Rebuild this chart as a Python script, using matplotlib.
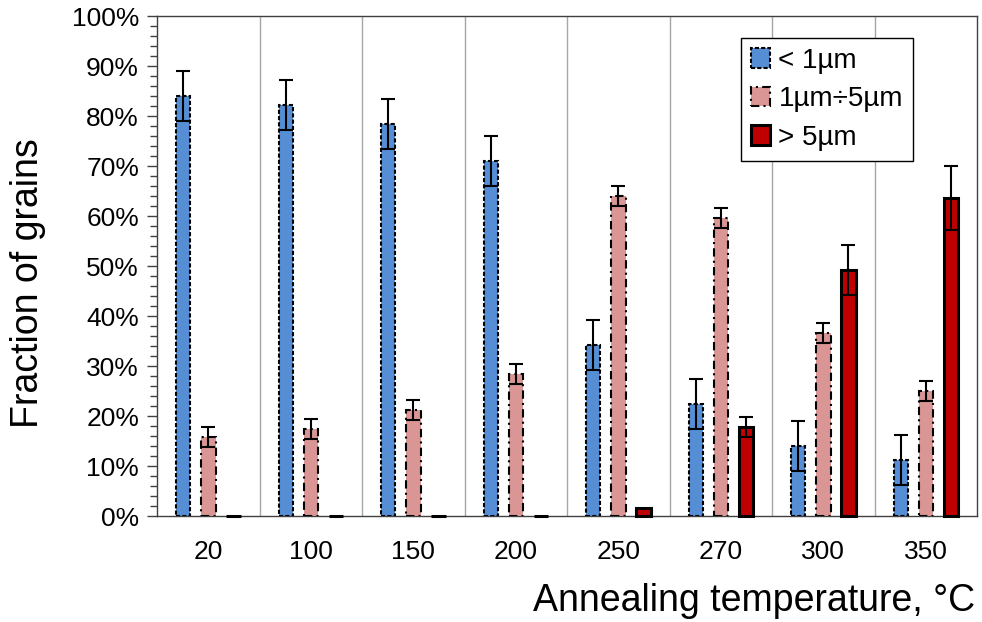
import numpy as np
import matplotlib.pyplot as plt
from matplotlib.ticker import MultipleLocator, FuncFormatter

plt.rcParams['font.family'] = ['Liberation Sans', 'DejaVu Sans']

temps = ['20', '100', '150', '200', '250', '270', '300', '350']
small = [84, 82.2, 78.5, 71, 34.3, 22.4, 14, 11.3]
small_err = [5, 5, 5, 5, 5, 5, 5, 5]
mid = [15.9, 17.4, 21.3, 28.4, 64, 59.7, 36.6, 25]
mid_err = [2, 2, 2, 2, 2, 2, 2, 2]
big = [0, 0, 0, 0, 1.6, 17.8, 49.2, 63.6]
big_err = [0, 0, 0, 0, 0, 2, 5, 6.4]
labels = ['< 1µm', '1µm÷5µm', '> 5µm']

fig = plt.figure(figsize=(9.82, 6.22), dpi=100)
ax = fig.add_axes([0.160, 0.170, 0.835, 0.804])

x = np.arange(len(temps))
w = 0.14
off = 0.245
ekw = dict(ecolor='black', elinewidth=1.5, capsize=5, capthick=1.5)

ax.bar(x - off, small, w, yerr=small_err, color='#558ED5', edgecolor='black',
       linewidth=1.5, linestyle=(0, (2, 1)), error_kw=ekw, label=labels[0], zorder=3)
ax.bar(x, mid, w, yerr=mid_err, color='#D99694', edgecolor='black',
       linewidth=1.5, linestyle=(0, (4, 2, 1, 2)), error_kw=ekw, label=labels[1], zorder=3)
big_yerr = [e if e > 0 else np.nan for e in big_err]
ax.bar(x + off, big, w, yerr=big_yerr, color='#C00000', edgecolor='black',
       linewidth=2.2, error_kw=ekw, label=labels[2], zorder=3, clip_on=False)

ax.set_xlim(-0.5, len(temps) - 0.5)
ax.set_ylim(0, 100)
ax.set_xticks(x)
ax.set_xticklabels(temps)
ax.set_xticks(np.arange(0.5, len(temps) - 0.5, 1), minor=True)
ax.grid(which='minor', axis='x', color='#A6A6A6', linewidth=1)
ax.tick_params(axis='x', which='both', length=0, pad=17, labelsize=19)

ax.yaxis.set_major_locator(MultipleLocator(10))
ax.yaxis.set_minor_locator(MultipleLocator(2))
ax.yaxis.set_major_formatter(FuncFormatter(lambda v, p: f'{v:.0f}%'))
ax.tick_params(axis='y', which='major', length=7, width=1, color='#404040', labelsize=19, pad=6)
ax.tick_params(axis='y', which='minor', length=5, width=1, color='#404040')

for s in ax.spines.values():
    s.set_color('#404040')
    s.set_linewidth(1)

fig.text(28 / 982, 1 - 283 / 622, 'Fraction of grains', fontsize=27,
         rotation=90, ha='center', va='center')
fig.text(975 / 982, 1 - 601 / 622, 'Annealing temperature, °C', fontsize=27,
         ha='right', va='center')

leg = ax.legend(loc='upper left', bbox_to_anchor=(0.712, 0.956), fontsize=20,
                frameon=True, fancybox=False, edgecolor='black', framealpha=1,
                handlelength=0.7, handleheight=0.7, handletextpad=0.3,
                labelspacing=0.45, borderpad=0.35, borderaxespad=0)
leg.get_frame().set_linewidth(1)

fig.savefig('out.png', dpi=100)
